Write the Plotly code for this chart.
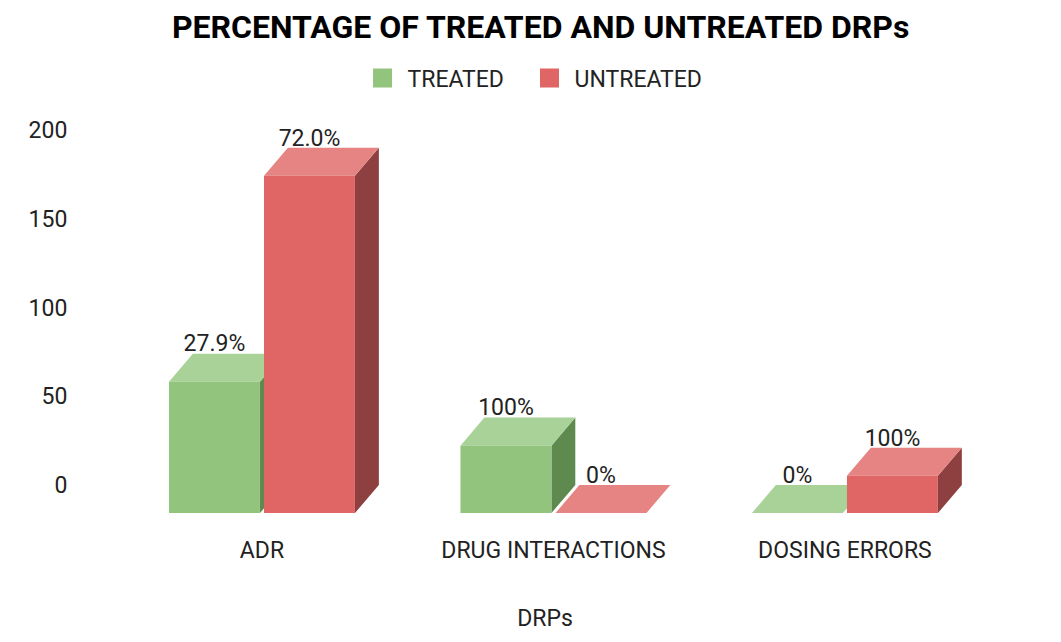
import plotly.graph_objects as go

# ---- data ----
categories = ["ADR", "DRUG INTERACTIONS", "DOSING ERRORS"]
treated = [74, 38, 0]
untreated = [190, 0, 21]
treated_labels = ["27.9%", "100%", "0%"]
untreated_labels = ["72.0%", "0%", "100%"]
y_ticks = [0, 50, 100, 150, 200]

# ---- style / geometry ----
FONT = "Roboto, Liberation Sans, Arial, sans-serif"
TXT = "#222222"
GREEN = {"front": "#93c47d", "top": "#a8d297", "side": "#5f8a4f"}
RED = {"front": "#e06666", "top": "#e68484", "side": "#8e4040"}
BAR_W = 0.312   # width of a bar front face (category units)
GAP = 0.014     # gap between the two bars of a group
DX = 0.082      # depth offset in x (category units)
DY = 15.8       # depth offset in y (value units)
LABEL_DROP = 2.0
FS = 23

fig = go.Figure()


def add_series(values, labels, colors, name, side, legend_id):
    xs_front, ys_front = [], []
    xs_top, ys_top = [], []
    xs_side, ys_side = [], []
    lx, ly = [], []
    for i, v in enumerate(values):
        if side < 0:
            x0, x1 = i - GAP / 2 - BAR_W, i - GAP / 2
        else:
            x0, x1 = i + GAP / 2, i + GAP / 2 + BAR_W
        b = -DY
        t = v - DY
        xs_front += [x0, x1, x1, x0, x0, None]
        ys_front += [b, b, t, t, b, None]
        xs_top += [x0, x1, x1 + DX, x0 + DX, x0, None]
        ys_top += [t, t, v, v, t, None]
        xs_side += [x1, x1 + DX, x1 + DX, x1, x1, None]
        ys_side += [b, 0, v, t, b, None]
        lx.append((x0 + x1) / 2)
        ly.append(v - LABEL_DROP)
    for xs, ys, c in ((xs_side, ys_side, colors["side"]),
                      (xs_top, ys_top, colors["top"]),
                      (xs_front, ys_front, colors["front"])):
        fig.add_trace(go.Scatter(x=xs, y=ys, mode="lines", fill="toself",
                                 fillcolor=c, line=dict(width=0, color=c),
                                 hoverinfo="skip", showlegend=False))
    fig.add_trace(go.Scatter(x=lx, y=ly, mode="text", text=labels,
                             textposition="top center",
                             textfont=dict(family=FONT, size=FS, color=TXT),
                             hoverinfo="skip", showlegend=False))
    fig.add_trace(go.Scatter(x=[None], y=[None], mode="markers", name=name,
                             legend=legend_id,
                             marker=dict(symbol="square", size=22,
                                         color=colors["front"],
                                         line=dict(width=3, color=colors["front"]))))


add_series(treated, treated_labels, GREEN, "TREATED", -1, "legend")
add_series(untreated, untreated_labels, RED, "UNTREATED", +1, "legend2")

legend_style = dict(orientation="h", xanchor="left", y=1.078, yanchor="middle",
                    font=dict(family=FONT, size=FS, color=TXT),
                    itemsizing="trace", itemwidth=40, bgcolor="rgba(0,0,0,0)")

fig.update_layout(
    width=1061, height=642,
    margin=dict(l=82, r=69, t=102, b=130),
    paper_bgcolor="white", plot_bgcolor="white",
    font=dict(family=FONT, size=FS, color=TXT),
    title=dict(text="<b>PERCENTAGE OF TREATED AND UNTREATED DRPs</b>",
               x=0.502, xanchor="center", y=1 - 19 / 642, yanchor="middle",
               yref="container", font=dict(family=FONT, size=32, color="#000000")),
    legend=dict(x=0.294, **legend_style),
    legend2=dict(x=0.4775, **legend_style),
    showlegend=True,
)
fig.update_xaxes(range=[-0.590, 2.532], tickvals=[0, 1, 2], ticktext=categories,
                 showgrid=False, zeroline=False, showline=False,
                 ticks="outside", ticklen=9, tickcolor="rgba(0,0,0,0)",
                 tickfont=dict(family=FONT, size=FS, color=TXT),
                 title=dict(text="DRPs", standoff=47,
                            font=dict(family=FONT, size=FS, color=TXT)),
                 fixedrange=True)
fig.update_yaxes(range=[-19.7, 211.3], tickvals=y_ticks,
                 showgrid=False, zeroline=False, showline=False,
                 ticks="outside", ticklen=17, tickcolor="rgba(0,0,0,0)",
                 tickfont=dict(family=FONT, size=FS, color=TXT),
                 fixedrange=True)

fig.write_html("out.html")
